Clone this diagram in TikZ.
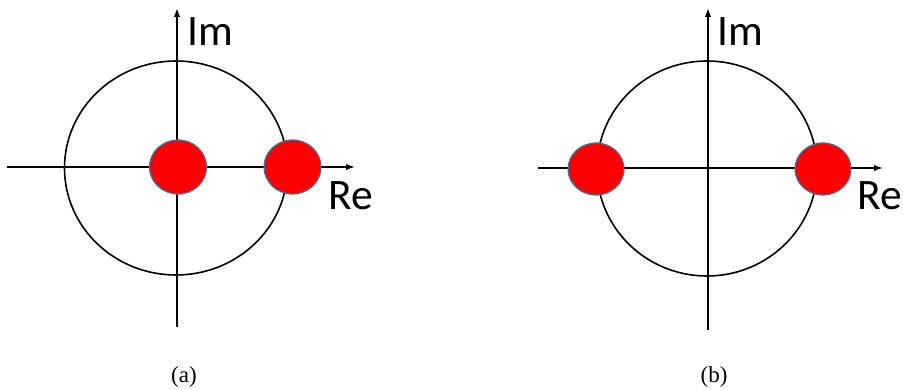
\documentclass[tikz,border=0pt]{standalone}
\usepackage{fontspec}
\usepackage{xcolor}
\usetikzlibrary{arrows.meta, shapes.geometric, positioning}
\newfontfamily\labelfont{Carlito}
\setmainfont{Liberation Serif}
\definecolor{cpole}{HTML}{FF0000}
\definecolor{cedge}{HTML}{41719C}
\definecolor{cbk}{HTML}{000000}

\begin{document}
\begin{tikzpicture}[x=1pt, y=-1pt]
    \useasboundingbox (0, 0) rectangle (903, 390);
    \begin{scope}[
        axis/.style={-{Latex[length=9pt, width=6.5pt]}, line width=1.7pt, draw=cbk},
        unitring/.style={line width=1.6pt, draw=cbk},
        pole/.style={ellipse, draw=cedge, line width=1.2pt, fill=cpole, inner sep=0pt, minimum width=57pt, minimum height=54pt},
        axislabel/.style={font=\labelfont\fontsize{43.5}{50}\selectfont, anchor=base west, inner sep=0pt},
        caption/.style={font=\fontsize{23}{27}\selectfont, inner sep=0pt}
    ]
        % ================= PANEL (a) =================
        \coordinate (a_south) at (177, 327);
        \coordinate (a_north) at (177, 8);
        \coordinate (a_west) at (7, 167);
        \coordinate (a_east) at (355, 167);
        \draw[unitring] (176, 168) ellipse [x radius=111.5, y radius=107];
        \draw[axis] (a_south) -- (a_north);
        \draw[axis] (a_west) -- (a_east);
        \node[pole] (a_pole1) at (178, 167) {};
        \node[pole] (a_pole2) at (292.5, 167) {};
        \node[axislabel] (a_im) at (187, 46) {Im};
        \node[axislabel] (a_re) at (328, 210) {Re};
        \node[caption] (a_cap) at (184, 377) {(a)};

        % ================= PANEL (b) =================
        \coordinate (b_south) at (708, 330);
        \coordinate (b_north) at (708, 8);
        \coordinate (b_west) at (538, 168);
        \coordinate (b_east) at (883, 168);
        \draw[unitring] (707, 168.5) ellipse [x radius=110, y radius=107.5];
        \draw[axis] (b_south) -- (b_north);
        \draw[axis] (b_west) -- (b_east);
        \node[pole, minimum height=52pt, minimum width=56pt] (b_pole1) at (596, 169) {};
        \node[pole, minimum height=52pt, minimum width=56pt] (b_pole2) at (823, 169) {};
        \node[axislabel] (b_im) at (717, 46) {Im};
        \node[axislabel] (b_re) at (857, 210) {Re};
        \node[caption] (b_cap) at (714, 377) {(b)};
    \end{scope}
\end{tikzpicture}
\end{document}
